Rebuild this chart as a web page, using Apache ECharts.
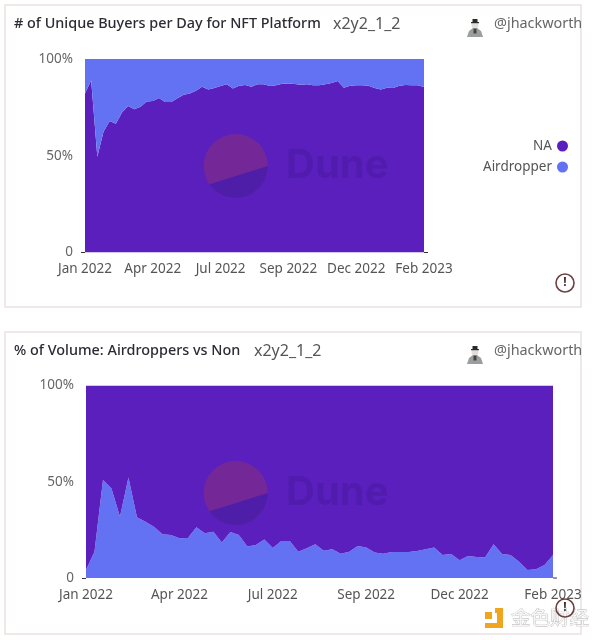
<!DOCTYPE html>
<html>
<head>
<meta charset="utf-8">
<style>html,body{margin:0;padding:0;background:#fff}#chart{width:600px;height:640px}</style>
<script src="https://cdn.jsdelivr.net/npm/echarts@6/dist/echarts.min.js"></script>
</head>
<body>
<div id="chart"></div>
<script>
var tickLabels1 = ['Jan 2022', 'Apr 2022', 'Jul 2022', 'Sep 2022', 'Dec 2022', 'Feb 2023'];
var weeks = ['w0','w1','w2','w3','w4','w5','w6','w7','w8','w9','w10','w11','w12','w13','w14','w15','w16','w17','w18','w19','w20','w21','w22','w23','w24','w25','w26','w27','w28','w29','w30','w31','w32','w33','w34','w35','w36','w37','w38','w39','w40','w41','w42','w43','w44','w45','w46','w47','w48','w49','w50','w51','w52','w53','w54','w55'];

// buyers per day, share in %
var buyersNA = [82.2,89,49.5,62.4,68,66.5,72.4,75.7,74,75.3,78,78.3,79.8,77.8,77.8,79.7,81.5,82.2,83.6,85.7,84.3,85,86,86.9,84.8,86.2,86.5,85.7,86.9,86.9,86,86.4,87.2,87.4,87.1,86.7,86.9,86.4,86.4,86.9,87.6,88.6,85.2,86.2,86.4,86.4,86.2,85,84.3,85.2,85,86.2,86.6,86.4,86.4,85.5];
var buyersAirdropper = [17.8,11,50.5,37.6,32,33.5,27.6,24.3,26,24.7,22,21.7,20.2,22.2,22.2,20.3,18.5,17.8,16.4,14.3,15.7,15,14,13.1,15.2,13.8,13.5,14.3,13.1,13.1,14,13.6,12.8,12.6,12.9,13.3,13.1,13.6,13.6,13.1,12.4,11.4,14.8,13.8,13.6,13.6,13.8,15,15.7,14.8,15,13.8,13.4,13.6,13.6,14.5];

// volume, share in %
var volumeAirdropper = [4.2,13.7,50.9,46.5,31.8,52.2,31.5,29.2,26.6,22.7,22.3,20.6,20.8,26.3,23.2,24,18.5,23.9,22.3,16.3,17.1,20,15.6,19.2,19.2,13.7,15.4,17.5,14.2,15,12.6,13.7,16.6,15.9,13.3,12.6,13.5,13.5,13.5,14,15,15.9,11.9,12.5,9.2,11.4,10.9,10.6,17.5,12.5,11.9,8.5,4.2,4.5,6.7,11.9];
var volumeNA = [95.8,86.3,49.1,53.5,68.2,47.8,68.5,70.8,73.4,77.3,77.7,79.4,79.2,73.7,76.8,76,81.5,76.1,77.7,83.7,82.9,80,84.4,80.8,80.8,86.3,84.6,82.5,85.8,85,87.4,86.3,83.4,84.1,86.7,87.4,86.5,86.5,86.5,86,85,84.1,88.1,87.5,90.8,88.6,89.1,89.4,82.5,87.5,88.1,91.5,95.8,95.5,93.3,88.1];

var FONT = '"Noto Sans", sans-serif';
var colorNA = '#5b1fbe';
var colorAir = '#6272f2';

function xAxis(gridIndex) {
    return {
        type: 'category', gridIndex: gridIndex, data: weeks, boundaryGap: false,
        axisLine: {show: false}, axisTick: {show: false},
        axisLabel: {
            interval: 10, margin: 10, color: '#555', fontSize: 13.5, fontFamily: FONT, hideOverlap: false,
            formatter: function (v, i) { return tickLabels1[i / 11]; }
        }
    };
}
function yAxis(gridIndex) {
    return {
        type: 'value', gridIndex: gridIndex, min: 0, max: 100, interval: 50,
        splitLine: {show: false}, axisLine: {show: false},
        axisTick: {show: true, customValues: [0], length: 4, lineStyle: {color: '#333'}},
        axisLabel: {
            margin: 12, color: '#666', fontSize: 13.5, fontFamily: FONT,
            formatter: function (v) { return v === 0 ? '0' : v + '%'; }
        }
    };
}
function area(name, data, axis, color) {
    return {
        name: name, type: 'line', stack: 'share' + axis, xAxisIndex: axis, yAxisIndex: axis, data: data,
        showSymbol: false, silent: true, animation: false,
        itemStyle: {color: color},
        lineStyle: {width: 0, color: color},
        areaStyle: {color: color, opacity: 1}
    };
}

/* card frame, watermark, avatar and warning icon */
function cardGraphics(cardTop, wmY, iconY, plotRight, plotBottom) {
    var cx = 235.7, cy = wmY, r = 32, pts = [], i, a;
    for (i = 0; i <= 30; i++) {
        a = (i / 30) * 145 * Math.PI / 180;
        pts.push([cx + r * Math.cos(a), cy + r * Math.sin(a)]);
    }
    var ax = 475, ay = cardTop + 20;
    return [
        {type: 'rect', z: -1, shape: {x: 5, y: cardTop, width: 576, height: 302}, style: {fill: '#fff', stroke: '#e9e2e0', lineWidth: 1.5}},
        {type: 'circle', z: 10, shape: {cx: cx, cy: cy, r: r}, style: {fill: '#742898'}},
        {type: 'polygon', z: 11, shape: {points: pts}, style: {fill: '#4f1ea8'}},
        {type: 'text', z: 11, x: 286, y: wmY, style: {text: 'Dune', fill: '#511cae', font: '700 40px Inter, sans-serif', verticalAlign: 'middle'}},
        {type: 'line', z: 12, shape: {x1: plotRight, y1: plotBottom, x2: plotRight + 4, y2: plotBottom}, style: {stroke: '#333', lineWidth: 1}},
        // avatar
        {type: 'polygon', z: 12, shape: {points: [[ax - 8, ay + 12], [ax - 6, ay + 6], [ax - 2, ay + 3], [ax + 2, ay + 3], [ax + 6, ay + 6], [ax + 8, ay + 12]]}, style: {fill: '#9a9e9c'}},
        {type: 'circle', z: 13, shape: {cx: ax, cy: ay, r: 3.5}, style: {fill: '#e2ddd8'}},
        {type: 'rect', z: 14, shape: {x: ax - 2.5, y: ay - 6, width: 5, height: 4}, style: {fill: '#2a2a2a'}},
        {type: 'rect', z: 14, shape: {x: ax - 4, y: ay - 3, width: 8, height: 1.2}, style: {fill: '#2a2a2a'}},
        {type: 'rect', z: 14, shape: {x: ax - 1.5, y: ay + 3.5, width: 3, height: 5}, style: {fill: '#444'}},
        // warning icon
        {type: 'circle', z: 20, shape: {cx: 565, cy: iconY, r: 9}, style: {fill: 'none', stroke: '#6e4040', lineWidth: 1.6}},
        {type: 'text', z: 20, x: 565, y: iconY, style: {text: '!', fill: '#4a2c2c', font: '700 12px ' + FONT, align: 'center', verticalAlign: 'middle'}}
    ];
}

function titleItem(text, left, top, size, color, weight) {
    return {text: text, left: left, top: top, padding: 0, textStyle: {fontFamily: FONT, fontSize: size, color: color, fontWeight: weight || 500}};
}

var logo = [
    {type: 'polygon', z: 15, shape: {points: [[495, 608], [503, 608], [503, 628], [485, 628], [485, 623], [497, 623], [497, 613], [495, 613]]}, style: {fill: '#f0a51e'}},
    {type: 'rect', z: 15, shape: {x: 485, y: 612, width: 7, height: 7}, style: {fill: '#f0a51e'}},
    {type: 'text', z: 15, x: 511, y: 608, style: {text: '金色财经', fill: '#f6f6f6', stroke: '#b5b5b5', lineWidth: 0.7, font: '19.5px "Noto Sans CJK SC"'}}
];

var chart = echarts.init(document.getElementById('chart'), null, {renderer: 'canvas'});
chart.setOption({
    animation: false,
    backgroundColor: '#fff',
    title: [
        titleItem('# of Unique Buyers per Day for NFT Platform', 14, 17, 14.4, '#2b2b33'),
        titleItem('x2y2_1_2', 333, 16, 16, '#555', 400),
        titleItem('@jhackworth', 494, 17, 14.4, '#666', 400),
        titleItem('% of Volume: Airdroppers vs Non', 14, 344, 14.4, '#2b2b33'),
        titleItem('x2y2_1_2', 254, 343, 16, '#555', 400),
        titleItem('@jhackworth', 494, 344, 14.4, '#666', 400)
    ],
    legend: {
        data: ['NA', 'Airdropper'], orient: 'vertical', right: 27, top: 134, align: 'right',
        icon: 'circle', itemWidth: 11, itemHeight: 11, itemGap: 7,
        textStyle: {color: '#555', fontSize: 13.5, fontFamily: FONT}
    },
    grid: [
        {left: 85, top: 59, width: 339, height: 193.5},
        {left: 86, top: 385.5, width: 467, height: 192.5}
    ],
    xAxis: [xAxis(0), xAxis(1)],
    yAxis: [yAxis(0), yAxis(1)],
    series: [
        area('NA', buyersNA, 0, colorNA),
        area('Airdropper', buyersAirdropper, 0, colorAir),
        area('Airdropper', volumeAirdropper, 1, colorAir),
        area('NA', volumeNA, 1, colorNA)
    ],
    graphic: cardGraphics(5, 166, 283, 424, 252.5).concat(cardGraphics(332, 493, 608, 553, 578)).concat(logo)
});
</script>
</body>
</html>
